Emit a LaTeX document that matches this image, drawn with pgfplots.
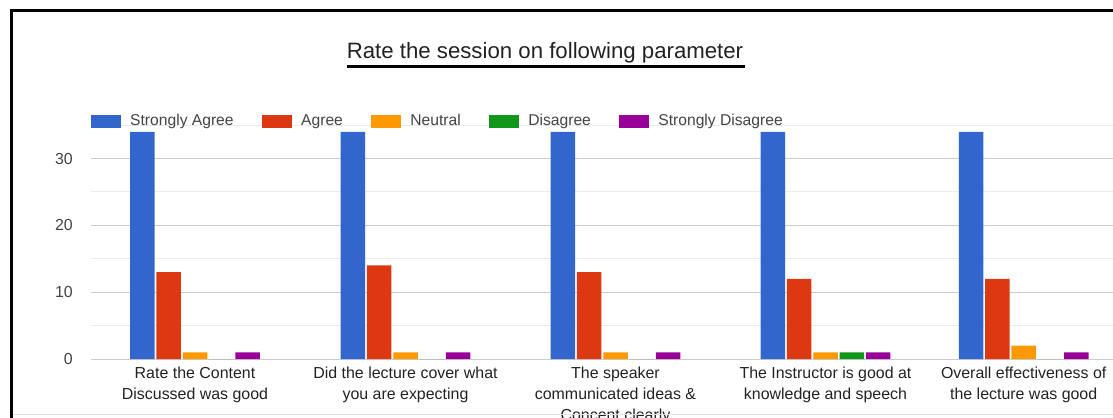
\documentclass[border=0pt]{standalone}
\usepackage{fontspec}
\setmainfont{Liberation Sans}
\usepackage{pgfplots}
\pgfplotsset{compat=1.18}
\definecolor{gblue}{HTML}{3366CC}
\definecolor{gred}{HTML}{DC3912}
\definecolor{gorange}{HTML}{FF9900}
\definecolor{ggreen}{HTML}{109618}
\definecolor{gpurple}{HTML}{990099}
\definecolor{txtgray}{HTML}{444444}
\definecolor{titlegray}{HTML}{222222}
\definecolor{majgrid}{HTML}{CCCCCC}
\definecolor{mingrid}{HTML}{EBEBEB}
\definecolor{basegray}{HTML}{333333}
\begin{document}
\begin{tikzpicture}
\begin{axis}[
  at={(91bp,59bp)}, anchor=south west,
  scale only axis,
  width=1040bp, height=233.8bp,
  xmin=91, xmax=1131,
  ymin=0, ymax=35,
  ybar, bar width=24.5,
  axis line style={draw=none},
  major tick length=0pt, minor tick length=0pt,
  tick style={draw=none},
  ytick={0,10,20,30},
  minor ytick={5,15,25,35},
  ymajorgrids, yminorgrids,
  major grid style={draw=majgrid, line width=1bp},
  minor grid style={draw=mingrid, line width=1bp},
  extra y ticks={0}, extra y tick labels={},
  extra y tick style={grid style={draw=basegray, line width=1.4bp}},
  /pgf/number format/assume math mode=true,
  yticklabel style={font=\fontsize{16}{19}\selectfont, text=txtgray, inner sep=0pt, xshift=-18bp},
  xtick={195,405.5,615.5,825.5,1023.7},
  xticklabels={{Rate the Content\\Discussed was good},{Did the lecture cover what\\you are expecting},{The speaker\\communicated ideas \&\\Concent clearly},{The Instructor is good at\\knowledge and speech},{Overall effectiveness of\\the lecture was good}},
  xticklabel style={font=\fontsize{16}{21}\selectfont, text=titlegray, align=center, inner sep=0pt, anchor=north, yshift=-8bp},
  legend columns=5,
  legend image code/.code={\fill[#1,draw=none] (0bp,-6.5bp) rectangle (30bp,6.5bp);},
  legend style={at={(axis cs:91,35.6)}, anchor=west, draw=none, fill=none,
    font=\fontsize{15.7}{18}\selectfont, text=txtgray, inner sep=0pt,
    nodes={inner sep=0pt, text height=11.5bp, text depth=3.5bp},
    /tikz/every odd column/.append style={column sep=9bp},
    /tikz/every even column/.append style={column sep=28.5bp}},
  clip=false,
]
\addplot[fill=gblue, draw=none, bar shift=-52.6] coordinates {(195,34) (405.5,34) (615.5,34) (825.5,34) (1023.7,34)};
\addplot[fill=gred, draw=none, bar shift=-26.3] coordinates {(195,13) (405.5,14) (615.5,13) (825.5,12) (1023.7,12)};
\addplot[fill=gorange, draw=none, bar shift=0] coordinates {(195,1) (405.5,1) (615.5,1) (825.5,1) (1023.7,2)};
\addplot[fill=ggreen, draw=none, bar shift=26.3] coordinates {(195,0) (405.5,0) (615.5,0) (825.5,1) (1023.7,0)};
\addplot[fill=gpurple, draw=none, bar shift=52.6] coordinates {(195,1) (405.5,1) (615.5,1) (825.5,1) (1023.7,1)};
\legend{Strongly Agree, Agree, Neutral, Disagree, Strongly Disagree}
\end{axis}
\node[font=\fontsize{22.3}{25}\selectfont, text=titlegray] at (545bp,365bp) {Rate the session on following parameter};
\draw[line width=3bp, black] (347bp,351bp) -- (745bp,351bp);
\draw[line width=3bp, black] (11bp,-5bp) -- (11bp,407bp) -- (1125bp,407bp);
\draw[line width=1bp, black!12] (12.5bp,3bp) -- (1113bp,3bp);
\pgfresetboundingbox
\path[use as bounding box] (0bp,0bp) rectangle (1113bp,418bp);
\end{tikzpicture}
\end{document}
